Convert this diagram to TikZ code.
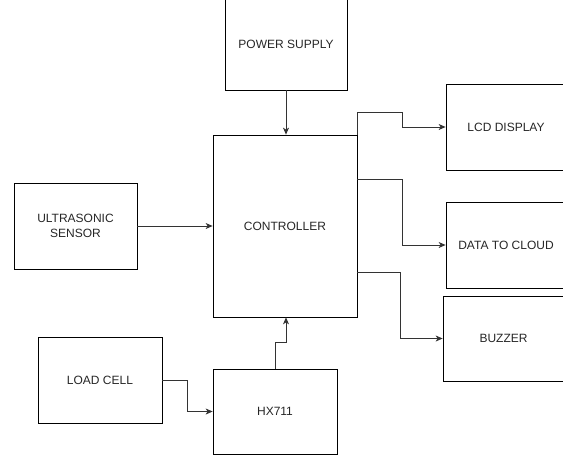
\documentclass[tikz,border=0pt]{standalone}
\usepackage{fontspec}
\setmainfont{Liberation Sans}
\usetikzlibrary{arrows.meta}
\begin{document}
\begin{tikzpicture}[x=1pt,y=-1pt,
		blk/.style={draw=black, line width=0.75pt, text=black!85, inner sep=0pt,
			font=\fontsize{12}{15}\selectfont, align=center},
		arr/.style={draw=black!80, line width=0.75pt, -{Stealth[length=7pt,width=6pt,inset=2pt]}}]
		\useasboundingbox (0,0) rectangle (563,456);

		% blocks
		\node[blk, minimum width=122pt, minimum height=91pt] (power) at (286,44.5) {POWER SUPPLY};
		\node[blk, minimum width=144pt, minimum height=182pt] (ctrl) at (285,226) {CONTROLLER};
		\node[blk, minimum width=123pt, minimum height=86pt] (ultra) at (75.5,226) {ULTRASONIC\\SENSOR};
		\node[blk, minimum width=124pt, minimum height=86pt] (load) at (100,380) {LOAD CELL};
		\node[blk, minimum width=124pt, minimum height=85pt] (hx) at (275,411.5) {HX711};
		\node[blk, minimum width=120pt, minimum height=86pt] (lcd) at (506,127) {LCD DISPLAY};
		\node[blk, minimum width=120pt, minimum height=86pt] (cloud) at (506,245) {DATA TO CLOUD};
		\node[blk, minimum width=121pt, minimum height=85pt] (buzzer) at (503.5,338.5) {BUZZER};

		% connectors
		\draw[arr] (power.south) -- (power.south |- ctrl.north);
		\draw[arr] (ultra.east) -- (ctrl.west);
		\draw[arr] (ctrl.north east) |- ++(45,-22) |- (lcd.west);
		\draw[arr] ([yshift=-45pt]ctrl.north east) -- ++(45,0) |- (cloud.west);
		\draw[arr] ([yshift=45pt]ctrl.south east) -- ++(43,0) |- (buzzer.west);
		\draw[arr] (load.east) -- ++(25,0) |- (hx.west);
		\draw[arr] (hx.north) -- ++(0,-26) -| ([xshift=1pt]ctrl.south);
	\end{tikzpicture}
\end{document}
